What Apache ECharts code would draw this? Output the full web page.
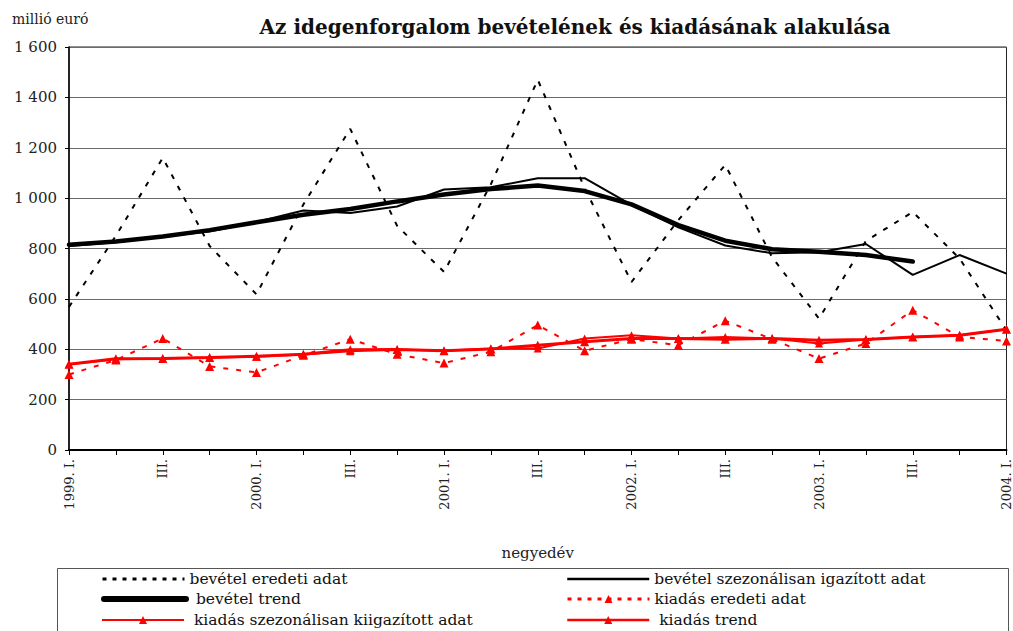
<!DOCTYPE html>
<html>
<head>
<meta charset="utf-8">
<script src="https://cdn.jsdelivr.net/npm/echarts@6/dist/echarts.min.js"></script>
<style>html,body{margin:0;padding:0;background:#fff}#c{width:1013px;height:631px}</style>
</head>
<body>
<div id="c"></div>
<script>
const categories = ['1999. I.','II.','III.','IV.','2000. I.','II.','III.','IV.','2001. I.','II.','III.','IV.','2002. I.','II.','III.','IV.','2003. I.','II.','III.','IV.','2004. I.'];
const yTicks = [0,200,400,600,800,1000,1200,1400,1600];
const bevetelEredeti = [568,850,1160,810,618,975,1275,890,707,1055,1470,1040,667,913,1132,765,522,830,945,760,475];
const bevetelSzez = [810,825,848,867,905,951,941,967,1034,1043,1079,1079,973,884,812,781,785,818,695,774,700];
const bevetelTrend = [815,828,848,873,904,934,957,987,1014,1036,1050,1028,975,893,831,797,787,774,748,null,null];
const kiadasEredeti = [300,357,443,332,308,376,440,380,345,390,496,394,440,416,513,440,363,423,555,449,433];
const kiadasSzez = [340,360,363,367,370,379,392,399,394,403,403,443,456,443,449,443,423,439,449,456,479];
const kiadasTrend = [340,362,363,367,372,380,398,399,394,401,416,430,443,443,440,443,436,439,449,456,479];

const serif = 'DejaVu Serif';
const RED = '#ff0000';
const chart = echarts.init(document.getElementById('c'), null, {renderer:'svg'});

function legendAt(name, left, cy, lead, extra) {
  const ts = {fontFamily:serif, fontSize:15.5, color:'#111', fontWeight:'normal'};
  return Object.assign({
    data:[{name:name, textStyle:ts}], left:left, top:cy-9, padding:0, itemWidth:82, itemHeight:10, itemGap:0,
    formatter: n => lead + n,
    textStyle:ts,
    selectedMode:false
  }, extra || {});
}
const noSym = {opacity:0};

chart.setOption({
  animation:false,
  textStyle:{fontFamily:serif},
  title:{
    text:'Az idegenforgalom bevételének és kiadásának alakulása',
    left:570, top:12, textAlign:'center',
    textStyle:{fontFamily:serif, fontSize:20, fontWeight:'bold', color:'#111'}
  },
  graphic:[
    {type:'text', left:12, top:12, style:{text:'millió euró', fontFamily:serif, fontSize:14, fill:'#222'}},
    {type:'rect', shape:{x:57.5, y:568.5, width:951, height:90}, style:{fill:'none', stroke:'#555', lineWidth:1}, silent:true}
  ],
  legend:[
    legendAt('bevétel eredeti adat', 101, 580, '', {itemStyle:noSym, lineStyle:{width:3, type:[4,6]}}),
    legendAt('bevétel trend', 101, 600, ' ', {itemStyle:noSym, lineStyle:{width:6, cap:'round'}}),
    legendAt('kiadás szezonálisan kiigazított adat', 101, 621, ' ', {lineStyle:{width:2}}),
    legendAt('bevétel szezonálisan igazított adat', 566, 580, '', {itemStyle:noSym, lineStyle:{width:2.5}}),
    legendAt('kiadás eredeti adat', 566, 600, '', {lineStyle:{width:3, type:[4,6]}}),
    legendAt('kiadás trend', 566, 621, ' ', {lineStyle:{width:2.5}})
  ],
  grid:{left:69, right:4, top:47, bottom:181, show:true, borderColor:'#222', borderWidth:1},
  xAxis:{
    type:'category', data:categories, boundaryGap:false,
    name:'negyedév', nameLocation:'middle', nameGap:95,
    nameTextStyle:{fontFamily:serif, fontSize:15, color:'#222'},
    axisLine:{lineStyle:{color:'#000', width:2}},
    axisTick:{show:true, interval:0, length:5, inside:false, lineStyle:{color:'#000'}},
    axisLabel:{interval:1, rotate:90, margin:9, fontFamily:serif, fontSize:13, color:'#222'},
    splitLine:{show:false}
  },
  yAxis:{
    type:'value', min:yTicks[0], max:yTicks[yTicks.length-1], interval:200,
    axisLine:{show:true, lineStyle:{color:'#000', width:1.5}},
    axisTick:{show:true, length:4, lineStyle:{color:'#000'}},
    axisLabel:{margin:12, fontFamily:serif, fontSize:15, color:'#222',
      formatter:v=>String(v).replace(/\B(?=(\d{3})+(?!\d))/g,' ')},
    splitLine:{lineStyle:{color:'#6a6a6a', width:1}}
  },
  series:[
    {name:'bevétel eredeti adat', type:'line', data:bevetelEredeti, symbol:'none',
      lineStyle:{color:'#000', width:2, type:[5,8]}, itemStyle:{color:'#000'}},
    {name:'bevétel szezonálisan igazított adat', type:'line', data:bevetelSzez, symbol:'none',
      lineStyle:{color:'#000', width:2}, itemStyle:{color:'#000'}},
    {name:'bevétel trend', type:'line', data:bevetelTrend, symbol:'none', connectNulls:false,
      lineStyle:{color:'#000', width:4.5, cap:'round'}, itemStyle:{color:'#000'}},
    {name:'kiadás eredeti adat', type:'line', data:kiadasEredeti, symbol:'triangle', symbolSize:9,
      lineStyle:{color:RED, width:2, type:[5,8]}, itemStyle:{color:RED}},
    {name:'kiadás szezonálisan kiigazított adat', type:'line', data:kiadasSzez, symbol:'triangle', symbolSize:8,
      lineStyle:{color:RED, width:2}, itemStyle:{color:RED}},
    {name:'kiadás trend', type:'line', data:kiadasTrend, symbol:'triangle', symbolSize:9,
      lineStyle:{color:RED, width:3}, itemStyle:{color:RED}}
  ]
});
</script>
</body>
</html>
